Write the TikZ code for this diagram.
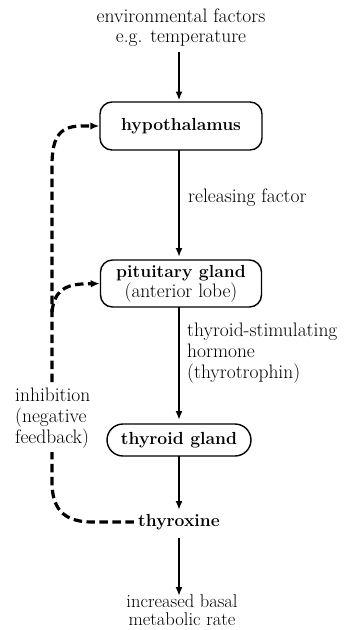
\documentclass[tikz,border=0pt]{standalone}
\usetikzlibrary{arrows.meta}
\begin{document}
\begin{tikzpicture}[x=1pt,y=-1pt,
  txt/.style={font=\fontsize{19.5}{20}\selectfont, align=center, inner sep=1pt},
  ltxt/.style={font=\fontsize{19.5}{21}\selectfont, align=left, inner sep=1pt},
  box/.style={draw, line width=1.4pt, rounded corners=12pt, font=\fontsize{19.5}{20}\selectfont, align=center, inner sep=0pt},
  bf/.style={font=\fontsize{17.5}{20}\selectfont\bfseries},
  arr/.style={line width=2.6pt, -{Latex[length=9pt,width=7pt]}},
  fb/.style={line width=3.2pt, dash pattern=on 8.5pt off 4.5pt},
  fbarr/.style={fb, -{Latex[length=9pt,width=7.5pt]}}]
\useasboundingbox (0,0) rectangle (345,630);
\node[txt] (env) at (181,28) {environmental factors\\e.g. temperature};
\node[box, minimum width=162pt, minimum height=48pt] (hyp) at (181,126) {{\fontsize{17.5}{20}\selectfont\bfseries hypothalamus}};
\node[box, minimum width=161pt, minimum height=47pt] (pit) at (181,283.5) {{\fontsize{17.5}{20}\selectfont\bfseries pituitary gland}\\(anterior lobe)};
\node[box, rounded corners=16pt, minimum width=144pt, minimum height=32pt] (thy) at (179,440) {\fontsize{17.5}{20}\selectfont\bfseries thyroid gland};
\node[bf, inner sep=4pt] (thx) at (179,522) {thyroxine};
\node[font=\fontsize{18.5}{18}\selectfont, align=center, inner sep=0pt] (out) at (182,610) {increased basal\\metabolic rate};
\node[ltxt, anchor=west] (rf) at (187,198) {releasing factor};
\node[ltxt, anchor=north west] (tsh) at (186,322) {thyroid-stimulating\\hormone\\(thyrotrophin)};
\node[ltxt, anchor=west] (inh) at (14,418) {inhibition\\(negative\\feedback)};
\coordinate (envb) at (179,52);
\draw[arr] (envb) -- (179,100.5);
\draw[arr] (179,150) -- (179,257);
\draw[arr] (179,307) -- (179,420);
\draw[arr] (179,456) -- (179,510);
\draw[arr] (179,538) -- (179,596);
\draw[fb] (thx.west) -- (92,522) .. controls (62,522) and (52,507) .. (52,482) -- (52,452);
\draw[fbarr] (52,382) -- (52,165) .. controls (52,134) and (62,126) .. (82,126) -- (hyp.west);
\draw[fbarr] (52,312) .. controls (54,292) and (64,285) .. (82,284) -- (pit.west);
\end{tikzpicture}
\end{document}
